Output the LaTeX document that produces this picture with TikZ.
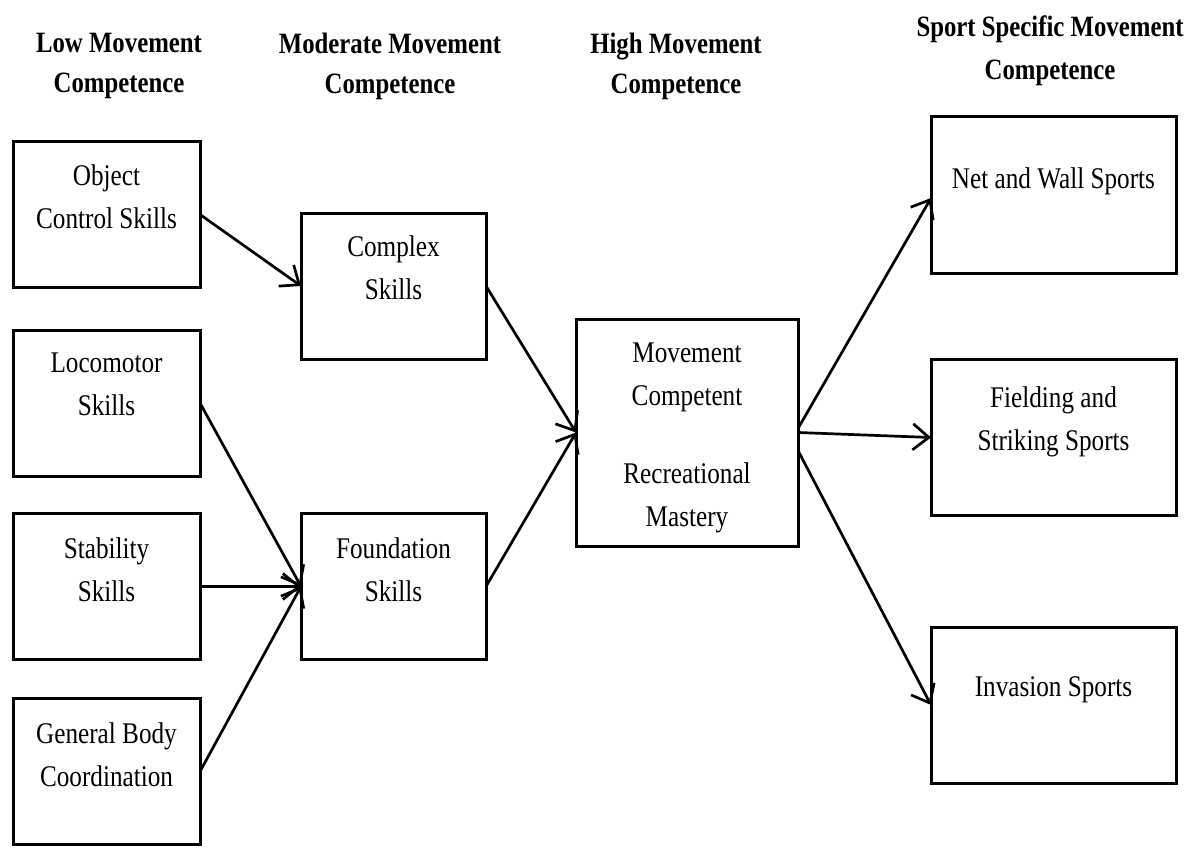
\documentclass[tikz,border=0pt]{standalone}
\usepackage{fontspec}
\setmainfont{Liberation Serif}[FakeStretch=0.84]
\usetikzlibrary{arrows.meta}
\begin{document}
\begin{tikzpicture}[x=1pt,y=-1pt,
  box/.style={draw, line width=3pt, rectangle, inner sep=0pt, outer sep=0pt},
  lowbox/.style={box, minimum width=187pt, minimum height=146pt},
  midbox/.style={box, minimum width=185pt, minimum height=146pt},
  sportbox/.style={box, minimum width=245pt, minimum height=156pt},
  txt/.style={font=\fontsize{30}{43}\selectfont, align=center, inner sep=0pt, anchor=north},
  hd/.style={font=\fontsize{29.5}{40}\selectfont\bfseries, align=center, inner sep=0pt, anchor=north},
  arr/.style={line width=2.7pt, -{Straight Barb[length=16pt,width=26pt]}}]
\useasboundingbox (0,0) rectangle (1197,848);
\fill[white] (0,0) rectangle (1197,848);

% headers
\node[hd] (h1) at (119,33) {Low Movement\\Competence};
\node[hd] (h2) at (390,33) {Moderate Movement\\Competence};
\node[hd] (h3) at (676,33) {High Movement\\Competence};
\node[hd, font=\fontsize{29.5}{43}\selectfont\bfseries] (h4) at (1050,16) {Sport Specific Movement\\Competence};

% boxes
\node[lowbox] (obj) at (106.5,214.5) {};
\node[lowbox] (loc) at (106.5,403) {};
\node[lowbox] (stab) at (106.5,586.5) {};
\node[lowbox] (gen) at (106.5,771.5) {};
\node[midbox] (cplx) at (393.5,286) {};
\node[midbox] (found) at (393.5,586.5) {};
\node[box, minimum width=222pt, minimum height=227pt] (mov) at (687,432.5) {};
\node[sportbox] (net) at (1053.5,195) {};
\node[sportbox] (field) at (1053.5,437.5) {};
\node[sportbox] (inv) at (1053.5,705) {};

% texts
\node[txt] (tobj) at ([yshift=-23pt]obj.north) {Object\\Control Skills};
\node[txt] (tloc) at ([yshift=-23pt]loc.north) {Locomotor\\Skills};
\node[txt] (tstab) at ([yshift=-24pt]stab.north) {Stability\\Skills};
\node[txt] (tgen) at ([yshift=-24pt]gen.north) {General Body\\Coordination};
\node[txt] (tcplx) at ([yshift=-22pt]cplx.north) {Complex\\Skills};
\node[txt] (tfound) at ([yshift=-24pt]found.north) {Foundation\\Skills};
\node[txt] (tmov) at ([yshift=-24pt]mov.north) {Movement\\Competent\\[35pt]Recreational\\Mastery};
\node[txt] (tnet) at ([yshift=-50pt]net.north) {Net and Wall Sports};
\node[txt] (tfield) at ([yshift=-27pt]field.north) {Fielding and\\Striking Sports};
\node[txt] (tinv) at ([yshift=-49pt]inv.north) {Invasion Sports};

% connectors
\draw[arr] (obj.east) -- (cplx.west);
\draw[arr] (loc.east) -- (found.west);
\draw[arr] (stab.east) -- (found.west);
\draw[arr] (gen.east) -- (found.west);
\draw[arr] (cplx.east) -- (mov.west);
\draw[arr] (found.east) -- (mov.west);
\draw[arr] ([yshift=4pt]mov.east) -- ([yshift=-3pt]net.west);
\draw[arr] (mov.east) -- (field.west);
\draw[arr] ([yshift=-18pt]mov.east) -- (inv.west);
\end{tikzpicture}
\end{document}
